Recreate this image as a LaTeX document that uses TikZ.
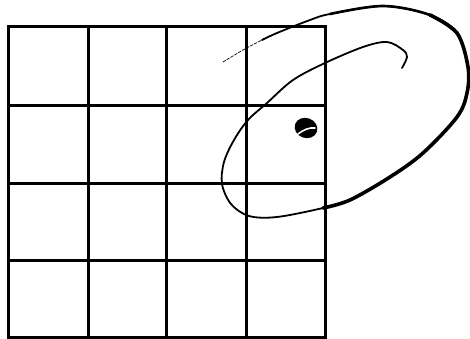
\documentclass[tikz,border=0pt]{standalone}
\begin{document}
\begin{tikzpicture}[x={(1pt,0pt)}, y={(0pt,-1pt)},
  gridline/.style={line width=3pt, line cap=rect},
  ink/.style={line cap=round, line join=round}]
\useasboundingbox (0,0) rectangle (470,339);
\fill[white] (0,0) rectangle (470,339);
% grid
\foreach \x in {8,88,166,246,325} \draw[gridline] (\x,27) -- (\x,337);
\foreach \y in {27,106,183,260,337} \draw[gridline] (8,\y) -- (325,\y);
% spiral ellipse
\draw[ink, line width=0.7pt, dash pattern=on 3pt off 1.5pt] plot[smooth, tension=0.55] coordinates {(223,62) (243,50) (262,40) (277,33)};
\draw[ink, line width=1.8pt] plot[smooth, tension=0.55] coordinates {(262,40) (277,33) (310,20) (330,14) (383,6) (430,15) (457,33) (468,67) (467,93) (457,117) (423,153) (390,177) (350,200) (323,208) (277,217) (249,216) (231,204) (222,184) (224,162) (234,140) (248,120) (267,103) (293,80) (325,63) (363,47) (387,42) (403,50) (407,57) (402,68)};
\draw[ink, line width=2.6pt] plot[smooth, tension=0.55] coordinates {(330,14) (383,6) (430,15) (457,33)};
\draw[ink, line width=3.6pt] plot[smooth, tension=0.55] coordinates {(430,15) (457,33) (468,67) (467,93) (457,117) (423,153) (390,177) (350,200) (323,208)};
% blob
\fill[rotate around={-20:(306,128)}] (306,128) ellipse [x radius=11.5, y radius=10];
\draw[white, line width=1.6pt, line cap=round] (298,134) .. controls (303,130) and (310,127) .. (315,128);
\end{tikzpicture}
\end{document}
